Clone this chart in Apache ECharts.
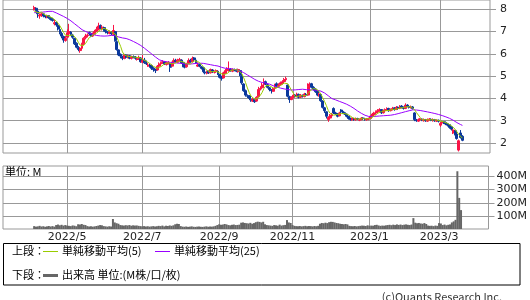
<!DOCTYPE html>
<html><head><meta charset="utf-8">
<script src="https://cdn.jsdelivr.net/npm/echarts@6/dist/echarts.min.js"></script>
<style>html,body{margin:0;padding:0;background:#fff}#c{width:530px;height:300px}</style>
</head><body><div id="c"></div>
<script>
// ---- axis (trading calendar) ----
const axisStart = '2022-03-10', axisEnd = '2023-04-10';
const marketHolidays = ['2022/3/21','2022/4/29','2022/5/3','2022/5/4','2022/5/5','2022/7/18','2022/8/11','2022/9/19','2022/9/23','2022/10/10','2022/11/3','2022/11/23','2023/1/2','2023/1/3','2023/1/9','2023/2/23','2023/3/21'];
const dataStart = '2022/4/5';
const priceTicks = [2,3,4,5,6,7,8];
const volumeTicks = [100,200,300,400];

// ---- daily prices ----
const openP = [7.98,8.05,7.92,7.70,7.72,7.80,7.72,7.64,7.72,7.60,7.56,7.35,7.42,7.28,7.10,6.92,6.78,6.60,
6.75,6.90,6.98,6.85,6.70,6.48,6.28,6.15,6.25,6.45,6.72,6.82,6.95,6.92,6.80,6.88,7.02,7.10,7.28,
7.12,7.18,7.05,6.98,6.92,6.98,6.88,7.00,6.55,6.18,5.98,5.88,5.80,5.95,5.84,5.92,5.80,5.88,5.86,5.75,5.78,5.82,
5.62,5.72,5.58,5.45,5.50,5.48,5.36,5.30,5.28,5.45,5.55,5.62,5.65,5.52,5.58,5.55,5.45,5.62,5.72,5.62,
5.70,5.72,5.62,5.50,5.42,5.58,5.72,5.65,5.82,5.72,5.45,5.52,5.42,5.38,5.18,5.12,5.22,5.15,5.28,5.18,5.20,5.22,
5.08,4.98,4.92,5.12,5.25,5.25,5.32,5.22,5.30,5.30,5.20,5.25,5.02,4.65,4.35,4.12,4.12,3.95,3.88,3.95,
3.88,4.08,4.42,4.48,4.62,4.75,4.62,4.48,4.38,4.32,4.45,4.66,4.55,4.62,4.68,4.76,4.84,4.60,4.08,3.95,
4.05,4.15,4.08,4.18,4.05,4.12,4.08,4.18,4.15,4.55,4.66,4.50,4.42,4.32,4.12,4.18,3.88,3.58,3.40,3.05,
3.12,3.22,3.55,3.35,3.30,3.22,3.48,3.42,3.36,3.30,3.20,3.10,3.04,3.08,3.04,3.10,3.02,3.05,3.12,3.08,3.04,3.06,
3.10,3.20,3.28,3.35,3.40,3.45,3.50,3.36,3.45,3.50,3.55,3.45,3.50,3.58,3.50,3.60,3.55,3.66,3.60,
3.55,3.70,3.64,3.58,3.62,3.35,3.02,2.98,3.04,3.08,3.00,3.05,2.98,3.04,3.06,3.00,3.05,2.98,3.02,
2.80,2.90,2.95,2.92,2.86,2.82,2.72,2.45,2.55,2.40,1.68,2.45,2.30];
const closeP = [8.08,7.95,7.80,7.74,7.80,7.70,7.66,7.70,7.62,7.55,7.50,7.40,7.30,7.12,6.95,6.80,6.62,6.70,
6.95,7.00,6.88,6.75,6.45,6.30,6.20,6.25,6.45,6.70,6.80,6.85,6.90,6.80,6.90,7.00,7.10,7.25,7.15,
7.20,7.05,7.00,6.95,6.98,6.90,7.05,6.60,6.20,5.95,5.90,5.80,5.95,5.85,5.90,5.80,5.88,5.85,5.80,5.78,5.85,5.65,
5.70,5.60,5.55,5.50,5.45,5.35,5.30,5.25,5.45,5.55,5.60,5.65,5.55,5.60,5.62,5.40,5.60,5.70,5.65,5.72,
5.75,5.60,5.45,5.40,5.55,5.70,5.65,5.80,5.75,5.60,5.50,5.45,5.35,5.20,5.15,5.20,5.15,5.30,5.20,5.20,5.25,5.10,
4.95,4.90,5.15,5.25,5.35,5.30,5.25,5.30,5.28,5.22,5.30,5.05,4.70,4.35,4.15,4.10,4.00,3.90,3.95,3.85,
4.05,4.40,4.45,4.60,4.75,4.65,4.50,4.40,4.35,4.45,4.60,4.55,4.60,4.70,4.75,4.85,4.90,4.10,3.95,4.05,
4.15,4.10,4.20,4.05,4.15,4.10,4.20,4.15,4.55,4.65,4.50,4.40,4.30,4.15,4.20,3.90,3.60,3.45,3.20,3.15,
3.25,3.30,3.35,3.30,3.20,3.35,3.40,3.35,3.30,3.20,3.10,3.05,3.10,3.05,3.10,3.08,3.05,3.12,3.10,3.05,3.08,3.10,
3.20,3.30,3.35,3.40,3.45,3.50,3.35,3.45,3.50,3.55,3.45,3.50,3.55,3.50,3.60,3.55,3.65,3.60,3.55,
3.70,3.65,3.60,3.62,3.55,3.05,3.00,3.05,3.08,3.02,3.05,3.00,3.05,3.08,3.02,3.05,3.00,3.02,2.98,
2.88,2.95,2.90,2.85,2.80,2.70,2.62,2.58,2.40,2.20,2.10,2.25,2.12];
const lowP = [7.95,7.90,7.62,7.58,7.66,7.64,7.60,7.60,7.58,7.50,7.45,7.28,7.22,7.05,6.88,6.70,6.50,6.55,
6.70,6.82,6.80,6.68,6.40,6.25,6.12,6.05,6.22,6.40,6.65,6.74,6.82,6.75,6.76,6.85,6.98,7.05,7.10,
7.05,7.00,6.92,6.88,6.88,6.84,6.85,6.55,6.15,5.90,5.80,5.72,5.76,5.80,5.80,5.76,5.75,5.80,5.74,5.70,5.74,5.60,
5.58,5.55,5.50,5.42,5.38,5.28,5.20,5.14,5.25,5.40,5.50,5.55,5.50,5.48,5.52,5.19,5.42,5.58,5.60,5.58,
5.65,5.55,5.40,5.35,5.38,5.55,5.60,5.62,5.70,5.55,5.42,5.40,5.30,5.13,5.08,5.08,5.10,5.12,5.14,5.12,5.15,5.05,
4.90,4.80,4.90,5.10,5.22,5.20,5.20,5.18,5.22,5.18,5.16,5.00,4.62,4.30,4.08,4.02,3.92,3.85,3.84,3.80,
3.85,4.05,4.36,4.44,4.58,4.60,4.45,4.32,4.22,4.30,4.42,4.48,4.50,4.58,4.62,4.72,4.78,4.05,3.80,3.92,
4.00,4.05,4.05,4.00,4.02,4.04,4.05,4.10,4.12,4.50,4.45,4.35,4.25,4.10,4.08,3.85,3.55,3.35,3.10,2.95,
3.08,3.18,3.30,3.25,3.15,3.20,3.35,3.30,3.26,3.15,3.05,3.00,3.00,3.00,3.00,3.03,2.98,3.02,3.05,3.00,3.00,3.02,
3.08,3.16,3.25,3.30,3.36,3.40,3.30,3.32,3.42,3.46,3.40,3.42,3.46,3.45,3.48,3.50,3.52,3.55,3.50,
3.52,3.60,3.55,3.55,3.50,2.98,2.95,2.95,3.00,2.98,2.96,2.95,2.95,3.00,2.98,2.96,2.95,2.94,2.92,
2.72,2.86,2.85,2.80,2.74,2.64,2.56,2.40,2.34,2.15,1.62,2.20,2.08];
const highP = [8.16,8.08,7.95,7.82,7.85,7.82,7.75,7.76,7.74,7.66,7.62,7.55,7.45,7.35,7.18,6.98,6.82,6.80,
7.10,7.35,7.02,6.90,6.72,6.52,6.35,6.30,6.50,6.75,6.90,6.92,7.00,6.95,6.96,7.08,7.22,7.40,7.32,
7.28,7.22,7.10,7.02,7.05,7.00,7.30,7.02,6.58,6.20,6.02,5.92,6.00,5.98,5.96,5.94,5.92,5.93,5.90,5.84,5.92,5.86,
5.95,5.82,5.70,5.60,5.55,5.52,5.40,5.34,5.50,5.62,5.66,5.72,5.68,5.66,5.68,5.58,5.65,5.80,5.78,5.78,
5.82,5.76,5.65,5.55,5.60,5.80,5.78,5.88,5.86,5.76,5.62,5.56,5.46,5.42,5.24,5.25,5.25,5.34,5.32,5.26,5.30,5.25,
5.10,5.02,5.20,5.32,5.40,5.66,5.36,5.35,5.34,5.33,5.34,5.28,5.05,4.68,4.40,4.18,4.15,4.00,4.02,3.98,
4.10,4.52,4.55,4.70,4.90,4.80,4.66,4.52,4.42,4.50,4.66,4.72,4.68,4.76,4.82,4.92,4.98,4.62,4.12,4.10,
4.22,4.20,4.26,4.22,4.20,4.18,4.25,4.24,4.68,4.72,4.70,4.55,4.46,4.36,4.25,4.20,3.92,3.62,3.42,3.20,
3.30,3.35,3.60,3.40,3.34,3.40,3.52,3.48,3.40,3.32,3.22,3.14,3.14,3.12,3.14,3.13,3.10,3.16,3.15,3.12,3.12,3.14,
3.24,3.35,3.40,3.46,3.52,3.56,3.52,3.50,3.55,3.60,3.58,3.55,3.62,3.60,3.66,3.64,3.70,3.70,3.64,
3.78,3.74,3.68,3.68,3.66,3.38,3.08,3.10,3.12,3.10,3.10,3.08,3.10,3.12,3.10,3.10,3.08,3.06,3.05,
2.94,3.00,2.98,2.95,2.90,2.85,2.75,2.62,2.58,2.45,2.15,2.58,2.35];
// volume in millions
const volumeM = [22,18,20,24,19,21,17,20,23,19,22,18,30,34,28,32,26,30,
26,24,22,27,25,21,36,34,38,32,30,22,19,21,18,20,23,26,30,
28,22,20,18,21,19,76,50,44,40,30,28,26,29,27,30,25,28,26,27,24,22,
20,22,19,21,18,20,22,19,21,24,22,26,20,25,23,27,24,28,36,40,
38,22,18,17,19,16,18,20,17,16,18,19,17,16,18,20,17,19,18,20,24,30,
36,32,34,38,35,30,28,32,34,30,31,33,48,50,46,44,42,47,40,45,
52,56,54,50,55,36,30,28,26,24,30,28,25,33,26,29,31,68,50,46,
30,24,22,21,23,20,22,24,21,23,22,20,23,21,24,40,46,44,48,45,
52,55,54,50,46,44,40,38,36,38,35,24,22,21,23,20,22,24,26,25,23,28,
24,26,25,30,32,27,24,26,25,28,30,32,29,33,30,35,31,34,30,
33,35,32,30,34,83,48,44,46,42,40,45,38,26,24,25,22,26,24,
45,42,30,34,28,32,35,50,58,70,440,237,144];
const ma5Lead = [7.92,7.88,7.85,7.85];
const ma25Lead = [7.85,7.86,7.86,7.87,7.87,7.88,7.89,7.90,7.91,7.92,7.91,7.88,7.84,7.80,7.76,7.72,7.68,7.64,7.59,7.54,7.48,7.42,7.35,7.29];

[openP,lowP,highP,volumeM].forEach((a,j)=>{ if(a.length!==closeP.length) throw new Error('length mismatch '+j+': '+a.length+' vs '+closeP.length); });

// ---- build categories ----
function fmt(d){return d.getUTCFullYear()+'/'+(d.getUTCMonth()+1)+'/'+d.getUTCDate();}
const categories=[];
for(let t=Date.parse(axisStart+'T00:00:00Z'); t<=Date.parse(axisEnd+'T00:00:00Z'); t+=86400000){
  const d=new Date(t), wd=d.getUTCDay();
  if(wd===0||wd===6) continue;
  const s=fmt(d);
  if(marketHolidays.indexOf(s)>=0) continue;
  categories.push(s);
}
const monthMark = categories.map((c,i)=>{
  if(i===0) return false;
  const m=c.split('/')[1], pm=categories[i-1].split('/')[1];
  return m!==pm && (+m)%2===1;
});
const s0 = categories.indexOf(dataStart);
function pad(arr){ return categories.map((c,i)=>{const k=i-s0; return (k>=0&&k<arr.length)?arr[k]:'-';}); }
function ma(win, lead){
  return closeP.map((c,k)=>{
    if(k<win-1) return lead[k];
    let s=0; for(let j=k-win+1;j<=k;j++) s+=closeP[j];
    return +(s/win).toFixed(4);
  });
}
const candleData = categories.map((c,i)=>{const k=i-s0; return (k>=0&&k<closeP.length)?[openP[k],closeP[k],lowP[k],highP[k]]:['-','-','-','-'];});

const gridColor='#999';
const upColor='#fa1446', downColor='#0a389c';
const jp='"Noto Sans CJK JP"';
const chart=echarts.init(document.getElementById('c'),null,{renderer:'canvas'});
chart.setOption({
  animation:false,
  grid:[
    {left:3,right:40,top:0,height:153,show:true,borderColor:gridColor,borderWidth:1},
    {left:3,right:40,top:166,height:63,show:true,borderColor:gridColor,borderWidth:1}
  ],
  xAxis:[
    {type:'category',gridIndex:0,data:categories,boundaryGap:false,
     axisLine:{show:false},axisTick:{show:false},axisLabel:{show:false},
     splitLine:{show:true,interval:(i)=>monthMark[i],lineStyle:{color:gridColor,width:1}}},
    {type:'category',gridIndex:1,data:categories,boundaryGap:false,
     axisLine:{show:false},axisTick:{show:false},
     axisLabel:{show:true,interval:(i)=>monthMark[i],formatter:(v)=>v.split('/').slice(0,2).join('/'),
       color:'#222',fontSize:11,fontFamily:'DejaVu Sans',margin:3},
     splitLine:{show:true,interval:(i)=>monthMark[i],lineStyle:{color:gridColor,width:1}}}
  ],
  yAxis:[
    {type:'value',gridIndex:0,position:'right',min:1.55,max:8.42,
     axisLine:{show:false},
     axisTick:{show:true,length:6,customValues:priceTicks,lineStyle:{color:gridColor}},
     axisLabel:{customValues:priceTicks,color:'#222',fontSize:11,fontFamily:'DejaVu Sans',margin:10},
     splitLine:{show:true,lineStyle:{color:gridColor,width:1}}},
    {type:'value',gridIndex:1,position:'right',min:0,max:480,
     axisLine:{show:false},
     axisTick:{show:true,length:6,customValues:volumeTicks,lineStyle:{color:gridColor}},
     axisLabel:{customValues:volumeTicks,formatter:(v)=>v+'M',color:'#222',fontSize:11,fontFamily:'DejaVu Sans',margin:8},
     splitLine:{show:true,lineStyle:{color:gridColor,width:1}}}
  ],
  series:[
    {type:'candlestick',name:'price',xAxisIndex:0,yAxisIndex:0,data:candleData,barWidth:2.4,
     itemStyle:{color:upColor,color0:downColor,borderColor:upColor,borderColor0:downColor,borderWidth:1}},
    {type:'line',name:'MA25',xAxisIndex:0,yAxisIndex:0,data:pad(ma(25,ma25Lead)),showSymbol:false,symbol:'none',
     lineStyle:{color:'#9900ff',width:1}},
    {type:'line',name:'MA5',xAxisIndex:0,yAxisIndex:0,data:pad(ma(5,ma5Lead)),showSymbol:false,symbol:'none',
     lineStyle:{color:'#99cc00',width:1}},
    {type:'bar',name:'volume',xAxisIndex:1,yAxisIndex:1,data:pad(volumeM),barWidth:2,
     itemStyle:{color:'#666666'}}
  ],
  graphic:[
    {type:'text',x:5,y:172,style:{text:'単位: M',font:'11px '+jp,fill:'#000',verticalAlign:'middle',textVerticalAlign:'middle'}},
    {type:'rect',shape:{x:3.5,y:243.5,width:516.5,height:41.5},style:{fill:'none',stroke:'#000',lineWidth:1}},
    {type:'text',x:12,y:251,style:{text:'上段：',font:'11px '+jp,fill:'#000',verticalAlign:'middle',textVerticalAlign:'middle'}},
    {type:'line',shape:{x1:43,y1:251.5,x2:58,y2:251.5},style:{stroke:'#99cc00',lineWidth:1}},
    {type:'text',x:62,y:251,style:{text:'単純移動平均(5)',font:'11px '+jp,fill:'#000',verticalAlign:'middle',textVerticalAlign:'middle'}},
    {type:'line',shape:{x1:155,y1:251.5,x2:170,y2:251.5},style:{stroke:'#9900ff',lineWidth:1}},
    {type:'text',x:174,y:251,style:{text:'単純移動平均(25)',font:'11px '+jp,fill:'#000',verticalAlign:'middle',textVerticalAlign:'middle'}},
    {type:'text',x:12,y:275,style:{text:'下段：',font:'11px '+jp,fill:'#000',verticalAlign:'middle',textVerticalAlign:'middle'}},
    {type:'line',shape:{x1:43,y1:275.5,x2:58,y2:275.5},style:{stroke:'#666666',lineWidth:3}},
    {type:'text',x:62,y:275,style:{text:'出来高 単位:(M株/口/枚)',font:'11px '+jp,fill:'#000',verticalAlign:'middle',textVerticalAlign:'middle'}},
    {type:'text',x:502,y:297,style:{text:'(c)Quants Research Inc.',font:'11px '+jp,fill:'#333',align:'right',textAlign:'right',verticalAlign:'middle',textVerticalAlign:'middle'}}
  ]
});
</script></body></html>
